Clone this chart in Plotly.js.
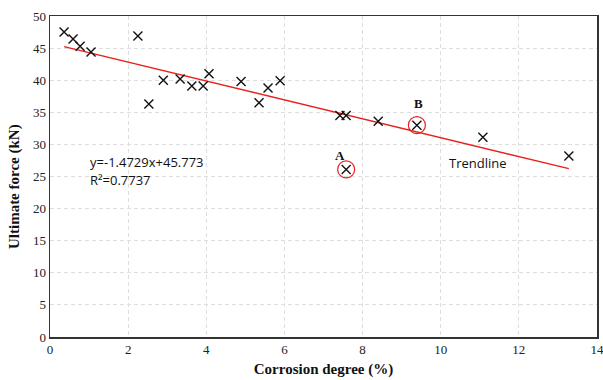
<!DOCTYPE html>
<html><head><meta charset="utf-8">
<script src="https://cdn.plot.ly/plotly-3.0.1.min.js"></script>
<style>html,body{margin:0;padding:0;background:#fff}#chart{width:603px;height:380px}</style>
</head><body><div id="chart"></div>
<script>
// Test data: corrosion degree (%) vs ultimate force (kN)
const corrosion = [0.36, 0.59, 0.77, 1.05, 2.25, 2.53, 2.90, 3.33, 3.63, 3.92, 4.07, 4.89, 5.35, 5.58, 5.89, 7.42, 7.58, 8.40, 9.39, 7.58, 11.08, 13.28];
const force     = [47.5, 46.4, 45.3, 44.4, 46.9, 36.3, 40.0, 40.2, 39.1, 39.1, 41.0, 39.8, 36.5, 38.8, 39.9, 34.5, 34.5, 33.6, 33.0, 26.1, 31.1, 28.2];
// Highlighted specimens
const highlightLabels = ["A", "B"];
const highlightX = [7.58, 9.39];
const highlightY = [26.1, 33.0];
// Trendline equation shown on chart
const slope = -1.4729;
const intercept = 45.773;
const r2 = 0.7737;
const xTicks = [0, 2, 4, 6, 8, 10, 12, 14];
const yTicks = [0, 5, 10, 15, 20, 25, 30, 35, 40, 45, 50];
const xTitle = 'Corrosion degree (%)';
const yTitle = 'Ultimate force (kN)';

const xmin = Math.min(...corrosion), xmax = Math.max(...corrosion);
const trendX = [xmin, xmax];
const trendY = trendX.map(x => slope * x + intercept);

const traces = [
  {x: trendX, y: trendY, mode: 'lines', line: {color: '#e8201e', width: 1.3}, hoverinfo: 'skip'},
  {x: corrosion, y: force, mode: 'markers', marker: {symbol: 'x-thin-open', size: 9, line: {color: '#111', width: 1.4}, color: '#111'}},
  {x: highlightX, y: highlightY, mode: 'markers', marker: {symbol: 'circle-open', size: 17, line: {color: '#e8201e', width: 1.2}, color: '#e8201e'}}
];

const serif = 'Liberation Serif, Times New Roman, serif';
const sans = 'Open Sans, Liberation Sans, Arial, sans-serif';

const layout = {
  width: 603, height: 380,
  margin: {l: 50, r: 6, t: 16, b: 43},
  showlegend: false,
  paper_bgcolor: '#fff', plot_bgcolor: '#fff',
  xaxis: {
    range: [0, 14], tickvals: xTicks, ticktext: xTicks.map(String), ticklabeloverflow: 'allow',
    showgrid: true, gridcolor: '#dedede', griddash: '4px,3px', gridwidth: 1,
    zeroline: false, showline: true, linecolor: '#333', linewidth: 1.5, mirror: true,
    ticks: '', tickfont: {family: serif, size: 13, color: '#222'},
    title: {text: '<b>' + xTitle + '</b>', font: {family: serif, size: 15, color: '#111'}, standoff: 7}
  },
  yaxis: {
    range: [0, 50], tickvals: yTicks, ticktext: yTicks.map(String), ticklabeloverflow: 'allow',
    showgrid: true, gridcolor: '#dedede', griddash: '4px,3px', gridwidth: 1,
    zeroline: false, showline: true, linecolor: '#333', linewidth: 1.5, mirror: true,
    ticks: '', tickfont: {family: serif, size: 13, color: '#222'}
  },
  annotations: [
    {x: -0.066, y: 0.47, xref: 'paper', yref: 'paper', xanchor: 'center', yanchor: 'middle', textangle: -90, showarrow: false,
     text: '<b>' + yTitle + '</b>', font: {family: serif, size: 15, color: '#111'}},
    {x: 0.97, y: 27.3, xref: 'x', yref: 'y', xanchor: 'left', yanchor: 'middle', showarrow: false,
     text: 'y=' + slope + 'x+' + intercept, font: {family: sans, size: 13, color: '#111'}},
    {x: 0.97, y: 24.5, xref: 'x', yref: 'y', xanchor: 'left', yanchor: 'middle', showarrow: false,
     text: 'R²=' + r2, font: {family: sans, size: 13, color: '#111'}},
    {x: 10.95, y: 27.1, xref: 'x', yref: 'y', xanchor: 'center', yanchor: 'middle', showarrow: false,
     text: 'Trendline', font: {family: sans, size: 13, color: '#111'}},
    {x: highlightX[0] - 0.17, y: highlightY[0] + 2.2, xref: 'x', yref: 'y', showarrow: false,
     text: '<b>' + highlightLabels[0] + '</b>', font: {family: serif, size: 13, color: '#111'}},
    {x: highlightX[1] + 0.03, y: highlightY[1] + 3.4, xref: 'x', yref: 'y', showarrow: false,
     text: '<b>' + highlightLabels[1] + '</b>', font: {family: serif, size: 13, color: '#111'}}
  ]
};

Plotly.newPlot('chart', traces, layout, {displayModeBar: false, staticPlot: true});
</script></body></html>
